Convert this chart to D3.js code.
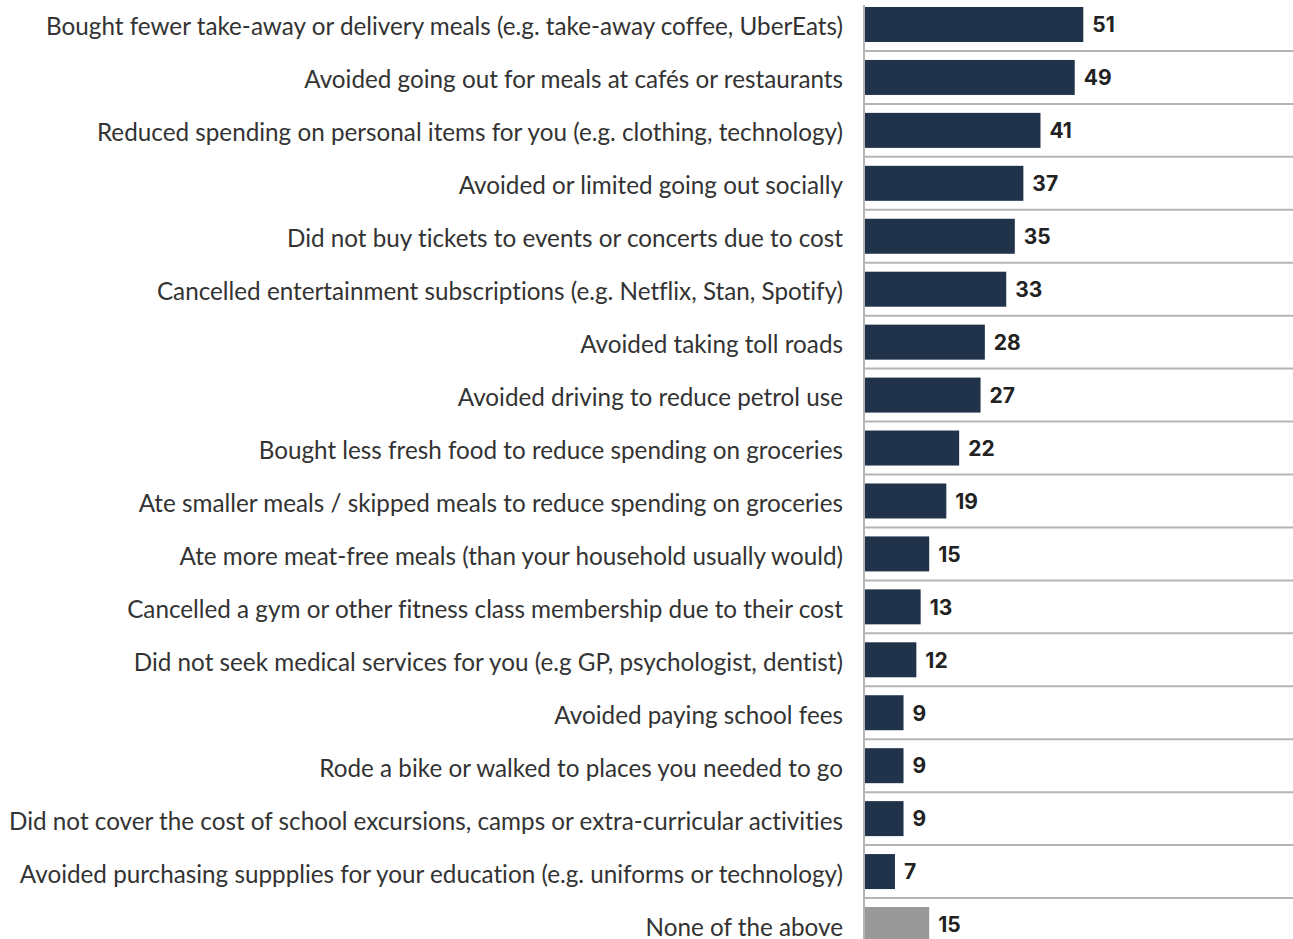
<!DOCTYPE html>
<html><head><meta charset="utf-8">
<script src="https://cdn.jsdelivr.net/npm/d3@7"></script>
<style>html,body{margin:0;padding:0;background:#fff;}svg{display:block;}text{font-variant-ligatures:none;}</style>
</head><body><svg id="c" width="1293" height="939"></svg>
<script>
const categories = [
"Bought fewer take-away or delivery meals (e.g. take-away coffee, UberEats)",
"Avoided going out for meals at cafés or restaurants",
"Reduced spending on personal items for you (e.g. clothing, technology)",
"Avoided or limited going out socially",
"Did not buy tickets to events or concerts due to cost",
"Cancelled entertainment subscriptions (e.g. Netflix, Stan, Spotify)",
"Avoided taking toll roads",
"Avoided driving to reduce petrol use",
"Bought less fresh food to reduce spending on groceries",
"Ate smaller meals / skipped meals to reduce spending on groceries",
"Ate more meat-free meals (than your household usually would)",
"Cancelled a gym or other fitness class membership due to their cost",
"Did not seek medical services for you (e.g GP, psychologist, dentist)",
"Avoided paying school fees",
"Rode a bike or walked to places you needed to go",
"Did not cover the cost of school excursions, camps or extra-curricular activities",
"Avoided purchasing suppplies for your education (e.g. uniforms or technology)",
"None of the above"
];
const values = [51,49,41,37,35,33,28,27,22,19,15,13,12,9,9,9,7,15];
const highlight = [false,false,false,false,false,false,false,false,false,false,false,false,false,false,false,false,false,true];

const svg = d3.select("#c");
const x = d3.scaleLinear().domain([0,100]).range([865,1293]);
const y = d3.scaleBand().domain(categories).range([-2, 951]).paddingInner(0.339).paddingOuter(0.17);
const step = y.step();

// separators
svg.append("g").selectAll("line").data(categories.slice(1)).join("line")
  .attr("x1",865).attr("x2",1293)
  .attr("y1",d=>y(d)-(step-y.bandwidth())/2).attr("y2",d=>y(d)-(step-y.bandwidth())/2)
  .attr("stroke","#b4b4b4").attr("stroke-width",2);

// bars
svg.append("g").selectAll("rect").data(categories).join("rect")
  .attr("x",x(0)).attr("y",d=>y(d)).attr("height",y.bandwidth())
  .attr("width",(d,i)=>x(values[i])-x(0))
  .attr("fill",(d,i)=>highlight[i]?"#999999":"#20334a");

// axis line
svg.append("line").attr("x1",864).attr("x2",864).attr("y1",5).attr("y2",939)
  .attr("stroke","#b4b4b4").attr("stroke-width",2);

// value labels
svg.append("g").selectAll("text").data(categories).join("text")
  .attr("x",(d,i)=>x(values[i])+9).attr("y",d=>y(d)+y.bandwidth()/2)
  .attr("dy","0.37em").attr("font-family","Inter, 'Open Sans', sans-serif")
  .attr("font-weight",700).attr("font-size",21).attr("fill","#222")
  .text((d,i)=>values[i]);

// category labels
const labels = svg.append("g").selectAll("text").data(categories).join("text")
  .attr("x",843).attr("y",d=>y(d)+y.bandwidth()/2+11)
  .attr("text-anchor","end").attr("font-family","Lato, 'Open Sans', sans-serif")
  .attr("font-size",20).attr("fill","#333").text(d=>d);
// fit font-size so longest label spans like the reference
let maxW = 0; labels.each(function(){maxW=Math.max(maxW,this.getComputedTextLength());});
const fs = 20*834/maxW;
labels.attr("font-size",fs);
</script></body></html>
